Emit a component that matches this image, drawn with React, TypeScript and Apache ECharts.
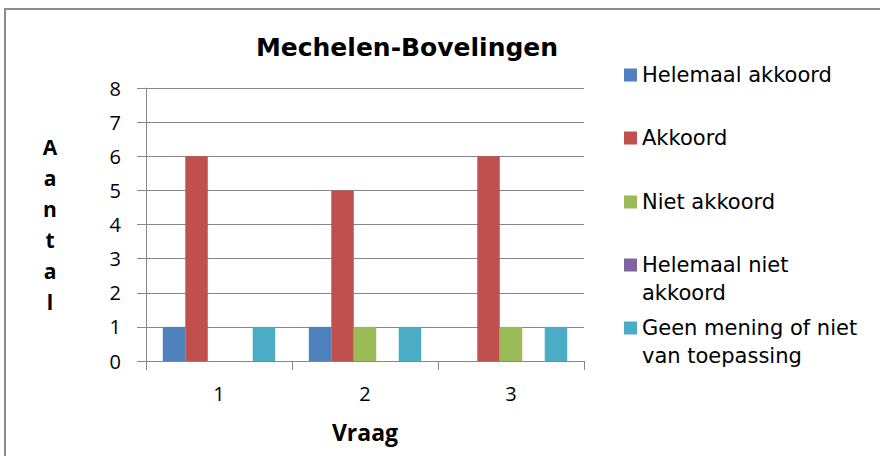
import React, { useEffect, useRef } from "react";
import * as echarts from "echarts";

const categories = ["1", "2", "3"];
const seriesNames = [
  "Helemaal akkoord",
  "Akkoord",
  "Niet akkoord",
  "Helemaal niet akkoord",
  "Geen mening of niet van toepassing",
];
const legendLabels = [
  "Helemaal akkoord",
  "Akkoord",
  "Niet akkoord",
  "Helemaal niet\nakkoord",
  "Geen mening of niet\nvan toepassing",
];
const helemaalAkkoord = [1, 1, 0];
const akkoord = [6, 5, 6];
const nietAkkoord = [0, 1, 1];
const helemaalNietAkkoord = [0, 0, 0];
const geenMening = [1, 1, 1];
const seriesValues = [helemaalAkkoord, akkoord, nietAkkoord, helemaalNietAkkoord, geenMening];
const colors = ["#4F81BD", "#C0504D", "#9BBB59", "#8064A2", "#4BACC6"];

export default function App() {
  const ref = useRef<HTMLDivElement>(null);
  useEffect(() => {
    if (!ref.current) return;
    const chart = echarts.init(ref.current, null, { renderer: "svg" });
    const gray = "#868686";
    const legendCenters = [75, 138, 202, 265, 328];
    const legends = seriesNames.map((name, i) => {
      const multi = legendLabels[i].includes("\n");
      return {
        orient: "vertical",
        left: 624,
        top: multi ? legendCenters[i] - 42 : legendCenters[i] - 14,
        padding: 0,
        itemWidth: 13,
        itemHeight: 13,
        icon: "rect",
        selectedMode: false,
        data: [name],
        formatter: () => (multi ? " \n" + legendLabels[i] : legendLabels[i]),
        textStyle: {
          fontFamily: "DejaVu Sans",
          fontSize: 21,
          color: "#000",
          lineHeight: 28,
        },
      };
    });
    chart.setOption({
      animation: false,
      color: colors,
      title: {
        text: "Mechelen-Bovelingen",
        left: 407,
        top: 35,
        textAlign: "center",
        padding: 0,
        textStyle: { fontFamily: "DejaVu Sans", fontSize: 25, fontWeight: "bold", color: "#000" },
      },
      legend: legends,
      grid: { left: 146, right: 296, top: 88, bottom: 95, containLabel: false },
      xAxis: {
        type: "category",
        data: categories,
        name: "Vraag",
        nameLocation: "middle",
        nameGap: 59,
        nameTextStyle: { fontFamily: "Open Sans", fontSize: 23, fontWeight: "bold", color: "#000" },
        axisLine: { show: true, lineStyle: { color: gray, width: 1 } },
        axisTick: { show: true, length: 9, lineStyle: { color: gray } },
        axisLabel: { fontFamily: "Open Sans", fontSize: 20, color: "#000", margin: 22 },
      },
      yAxis: {
        type: "value",
        min: 0,
        max: 8,
        interval: 1,
        axisLine: { show: true, lineStyle: { color: gray, width: 1 } },
        axisTick: { show: true, length: 9, lineStyle: { color: gray } },
        axisLabel: { fontFamily: "Open Sans", fontSize: 20, color: "#000", margin: 25 },
        splitLine: { show: true, lineStyle: { color: gray, width: 1 } },
      },
      series: seriesNames.map((name, i) => ({
        name,
        type: "bar",
        data: seriesValues[i],
        barGap: "0%",
        barCategoryGap: "23%",
        itemStyle: { color: colors[i] },
      })),
      graphic: [
        {
          type: "rect",
          shape: { x: 5, y: 9, width: 1000, height: 1000 },
          style: { fill: "none", stroke: "#8c8c8c", lineWidth: 2 },
          silent: true,
        },
        {
          type: "text",
          x: 50,
          y: 224,
          style: {
            text: "A\na\nn\nt\na\nl",
            fontFamily: "Open Sans",
            fontSize: 21,
            fontWeight: "bold",
            lineHeight: 31,
            fill: "#000",
            align: "center",
            verticalAlign: "middle",
          },
        },
      ],
    });
    return () => chart.dispose();
  }, []);
  return (
    <div
      ref={ref}
      style={{ position: "fixed", left: 0, top: 0, width: 880, height: 456, background: "#fff" }}
    />
  );
}
